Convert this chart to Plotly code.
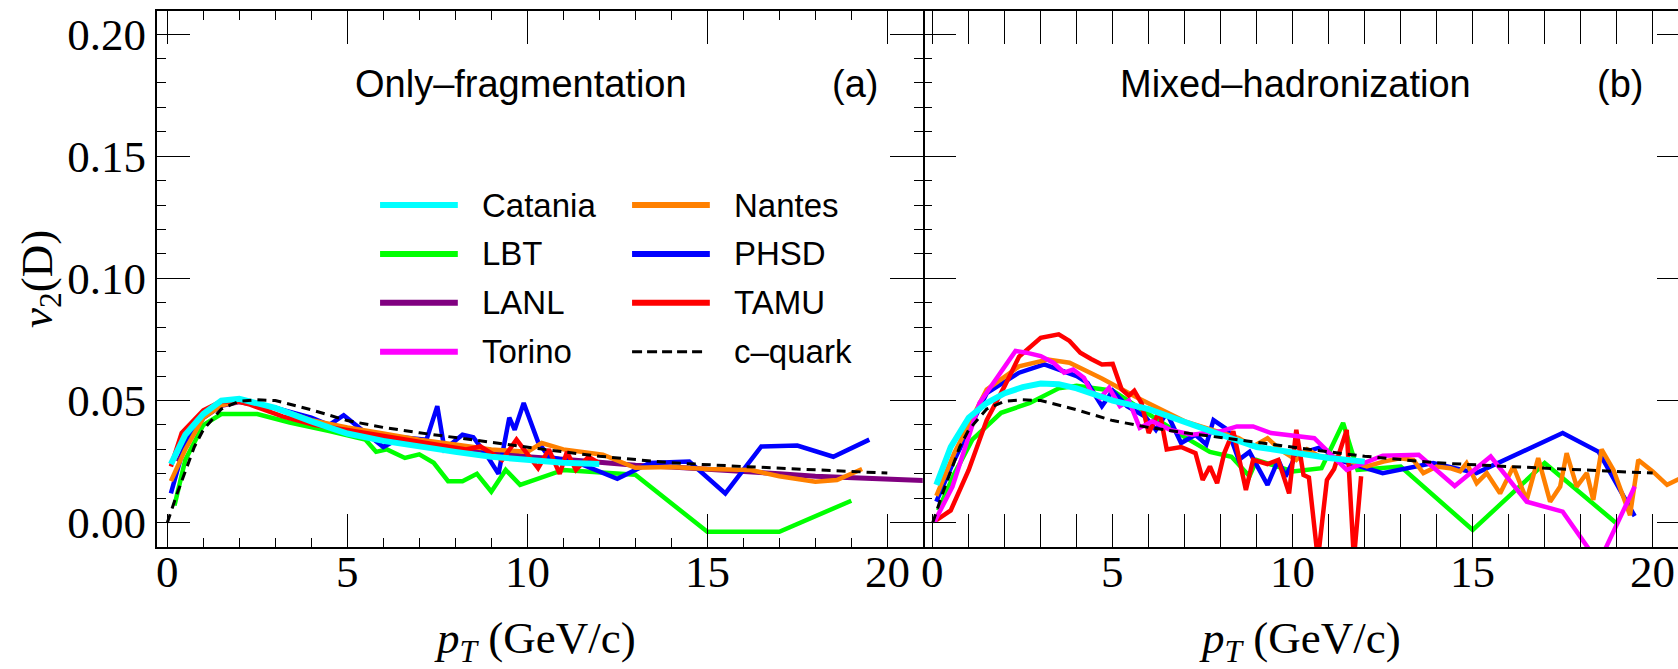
import plotly.graph_objects as go

# ---------------- data ----------------
# c-quark reference curve (same in both panels)
CQ_X = [0.0, 0.25, 0.5, 0.75, 1.0, 1.5, 2.0, 2.5, 3.0, 4.0, 5.0, 6.0, 7.0, 8.0, 9.0, 10.0, 11.0, 12.0, 14.0, 16.0, 18.0, 20.0]
CQ_Y = [0.0, 0.011, 0.021, 0.031, 0.038, 0.0465, 0.0497, 0.0503, 0.050, 0.0462, 0.0418, 0.039, 0.0368, 0.0348, 0.033, 0.031, 0.029, 0.0272, 0.0245, 0.023, 0.0216, 0.0203]

# Panel (a): only fragmentation
CAT_A_X = [0.1, 0.5, 1.0, 1.5, 2.0, 2.5, 3.0, 4.0, 5.0, 6.0, 7.0, 8.0, 9.0, 10.0, 11.0, 12.0]
CAT_A_Y = [0.024, 0.036, 0.0445, 0.050, 0.0507, 0.049, 0.047, 0.0415, 0.0365, 0.0335, 0.031, 0.029, 0.027, 0.0255, 0.0245, 0.024]

LBT_A_X = [0.2, 0.5, 1.0, 1.5, 2.5, 3.4, 4.5, 5.5, 5.8, 6.1, 6.6, 7.0, 7.4, 7.8, 8.2, 8.6, 9.0, 9.4, 9.8, 10.5, 11.0, 13.0, 15.0, 17.0, 19.0]
LBT_A_Y = [0.007, 0.0257, 0.040, 0.0445, 0.0445, 0.041, 0.0375, 0.034, 0.029, 0.030, 0.0265, 0.028, 0.0245, 0.017, 0.017, 0.020, 0.0127, 0.0216, 0.0155, 0.019, 0.0216, 0.0196, -0.0037, -0.0037, 0.009]

LANL_A_X = [0.3, 0.6, 1.0, 1.5, 2.0, 3.0, 4.0, 5.0, 6.0, 7.0, 8.0, 9.0, 10.0, 11.0, 12.0, 13.0, 14.0, 15.0, 16.0, 17.0, 18.0, 19.0, 20.0, 21.0]
LANL_A_Y = [0.025, 0.034, 0.043, 0.048, 0.0495, 0.047, 0.042, 0.038, 0.0355, 0.033, 0.031, 0.029, 0.027, 0.026, 0.0245, 0.0235, 0.0228, 0.022, 0.021, 0.020, 0.019, 0.0185, 0.018, 0.0173]

PHSD_A_X = [0.1, 0.5, 1.0, 1.5, 2.0, 3.0, 4.0, 4.5, 4.9, 5.4, 6.0, 6.5, 7.2, 7.5, 7.7, 8.2, 8.5, 8.9, 9.2, 9.5, 9.65, 9.9, 10.3, 10.6, 11.5, 12.5, 13.4, 14.5, 15.5, 16.5, 17.5, 18.5, 19.5]
PHSD_A_Y = [0.012, 0.033, 0.044, 0.049, 0.050, 0.047, 0.043, 0.040, 0.044, 0.038, 0.031, 0.035, 0.034, 0.0477, 0.030, 0.036, 0.035, 0.027, 0.020, 0.043, 0.038, 0.049, 0.033, 0.027, 0.024, 0.018, 0.0244, 0.025, 0.012, 0.0312, 0.0316, 0.027, 0.034]

NAN_A_X = [0.1, 0.5, 1.0, 1.5, 2.0, 3.0, 4.0, 5.0, 6.0, 7.0, 8.0, 9.0, 10.0, 10.4, 11.0, 11.5, 12.1, 13.0, 14.0, 15.0, 16.2, 17.0, 18.0, 18.6, 19.3]
NAN_A_Y = [0.017, 0.030, 0.043, 0.048, 0.0497, 0.047, 0.042, 0.039, 0.0365, 0.034, 0.032, 0.030, 0.029, 0.0326, 0.030, 0.029, 0.0278, 0.0225, 0.0228, 0.022, 0.0216, 0.019, 0.0168, 0.0175, 0.022]

TAMU_A_X = [0.1, 0.4, 1.0, 1.5, 2.0, 2.3, 3.2, 4.1, 5.0, 6.4, 7.4, 7.8, 8.3, 8.7, 9.3, 9.7, 10.0, 10.3, 10.6, 10.9, 11.1, 11.35, 11.7, 12.0]
TAMU_A_Y = [0.023, 0.0367, 0.046, 0.0497, 0.0495, 0.0483, 0.0435, 0.040, 0.038, 0.0346, 0.032, 0.0312, 0.030, 0.0312, 0.0257, 0.034, 0.028, 0.0223, 0.030, 0.020, 0.029, 0.0216, 0.027, 0.0244]

# Panel (b): mixed hadronization
CAT_B_X = [0.1, 0.5, 1.0, 1.5, 2.0, 2.5, 3.0, 3.5, 4.0, 5.0, 6.0, 7.0, 8.0, 9.0, 10.0, 11.0, 12.0]
CAT_B_Y = [0.0155, 0.031, 0.043, 0.049, 0.053, 0.0555, 0.057, 0.0567, 0.055, 0.050, 0.0465, 0.041, 0.036, 0.031, 0.0285, 0.0265, 0.025]

LBT_B_X = [0.15, 0.6, 1.1, 1.9, 2.7, 3.5, 4.0, 5.0, 6.1, 7.0, 7.7, 8.3, 8.8, 9.0, 10.0, 10.8, 11.4, 11.8, 13.0, 15.0, 17.0, 19.0]
LBT_B_Y = [0.005, 0.020, 0.034, 0.045, 0.049, 0.055, 0.056, 0.054, 0.0435, 0.035, 0.029, 0.027, 0.019, 0.0257, 0.021, 0.0223, 0.0408, 0.0216, 0.023, -0.003, 0.0244, -0.0003]

PHSD_B_X = [0.1, 0.6, 1.5, 2.4, 3.1, 3.5, 4.0, 4.3, 4.7, 5.0, 5.4, 5.9, 6.2, 6.5, 6.9, 7.3, 7.6, 7.8, 8.2, 8.5, 8.8, 9.3, 9.6, 9.8, 10.1, 10.8, 11.2, 12.5, 13.9, 15.1, 16.5, 17.5, 18.5, 19.5]
PHSD_B_Y = [0.0086, 0.0257, 0.053, 0.0614, 0.0648, 0.0627, 0.060, 0.0572, 0.0477, 0.054, 0.0477, 0.0435, 0.038, 0.045, 0.0326, 0.036, 0.032, 0.042, 0.038, 0.0257, 0.029, 0.0155, 0.0257, 0.0189, 0.0278, 0.031, 0.026, 0.0203, 0.0244, 0.0203, 0.030, 0.0367, 0.029, 0.0027]

NAN_B_X = [0.1, 0.6, 1.5, 2.4, 3.2, 3.8, 4.7, 5.7, 7.0, 8.0, 8.5, 8.9, 9.3, 9.65, 10.1, 10.4, 10.76, 11.13, 12.06, 12.52, 12.98, 13.35, 13.63, 14.0, 14.37, 14.65, 14.83, 15.11, 15.39, 15.76, 16.13, 16.5, 16.82, 17.15, 17.43, 17.61, 17.89, 18.17, 18.35, 18.58, 18.91, 19.37, 19.6, 20.0, 20.4, 20.75]
NAN_B_Y = [0.011, 0.0285, 0.0545, 0.064, 0.0668, 0.0655, 0.059, 0.051, 0.0415, 0.0367, 0.0346, 0.0312, 0.0346, 0.0299, 0.0257, 0.030, 0.027, 0.027, 0.023, 0.025, 0.0264, 0.0257, 0.0203, 0.023, 0.0223, 0.021, 0.0244, 0.0162, 0.0203, 0.012, 0.023, 0.0093, 0.0264, 0.0086, 0.0148, 0.0285, 0.0148, 0.0203, 0.0093, 0.030, 0.0216, 0.0031, 0.0257, 0.021, 0.0155, 0.018]

TAMU_B_X = [0.1, 0.5, 1.0, 1.5, 2.0, 2.4, 3.0, 3.5, 3.8, 4.1, 4.4, 4.7, 5.0, 5.25, 5.45, 5.6, 5.8, 6.0, 6.3, 6.5, 6.9, 7.3, 7.5, 7.7, 7.9, 8.1, 8.35, 8.7, 8.9, 9.3, 9.6, 9.9, 10.1, 10.3, 10.45, 10.7, 10.95, 11.15, 11.5, 11.7, 11.9]
TAMU_B_Y = [0.001, 0.005, 0.0216, 0.042, 0.056, 0.068, 0.0757, 0.0771, 0.0744, 0.0696, 0.067, 0.0648, 0.065, 0.0545, 0.052, 0.054, 0.049, 0.0367, 0.0456, 0.030, 0.031, 0.0285, 0.0175, 0.023, 0.0162, 0.0285, 0.0374, 0.0134, 0.0257, 0.024, 0.0257, 0.012, 0.038, 0.0195, 0.0185, -0.015, 0.0175, 0.022, 0.038, -0.015, 0.019]

TOR_B_X = [0.05, 0.55, 1.3, 1.8, 2.3, 2.6, 3.0, 3.35, 3.65, 3.9, 4.2, 4.4, 4.65, 4.9, 5.2, 5.45, 5.75, 6.1, 6.6, 7.2, 8.0, 8.45, 8.9, 9.4, 10.4, 10.6, 11.5, 12.0, 12.5, 13.5, 14.5, 15.5, 16.5, 17.5, 18.5, 19.5]
TOR_B_Y = [0.0004, 0.0148, 0.049, 0.060, 0.0703, 0.0696, 0.0682, 0.0655, 0.0614, 0.0627, 0.0593, 0.0538, 0.051, 0.0552, 0.0477, 0.050, 0.0388, 0.0415, 0.038, 0.036, 0.0374, 0.0394, 0.0394, 0.0367, 0.0353, 0.0346, 0.0216, 0.0244, 0.0274, 0.0278, 0.015, 0.0271, 0.0086, 0.0045, -0.0165, 0.0148]

X_TICKS = [0, 5, 10, 15, 20]
X_TICK_LABELS = ["0", "5", "10", "15", "20"]
LEGEND_COL1 = ["Catania", "LBT", "LANL", "Torino"]
LEGEND_COL2 = ["Nantes", "PHSD", "TAMU", "c\u2013quark"]
COLORS = {"Catania": "#00FFFF", "LBT": "#00FF00", "LANL": "#800080", "Torino": "#FF00FF",
          "Nantes": "#FF8000", "PHSD": "#0000FF", "TAMU": "#FF0000", "c\u2013quark": "black"}
PANEL_TITLES = ["Only\u2013fragmentation", "Mixed\u2013hadronization"]
PANEL_TAGS = ["(a)", "(b)"]
X_TITLE = "<i>p</i><sub><i>T</i></sub> (GeV/c)"
Y_TITLE = "<i>v</i><sub>2</sub>(D)"

# ---------------- figure ----------------
fig = go.Figure()
WIDTHS = {"Catania": 6, "LBT": 4.5, "LANL": 5, "Torino": 4.5, "Nantes": 4.5, "PHSD": 4.5, "TAMU": 4.5}


def add(x, y, name, xa, ya):
    fig.add_trace(go.Scatter(x=x, y=y, mode="lines", name=name, showlegend=False,
                             line=dict(color=COLORS[name], width=WIDTHS[name]),
                             xaxis=xa, yaxis=ya, hoverinfo="skip"))


# panel (a)
add(LANL_A_X, LANL_A_Y, "LANL", "x", "y")
add(LBT_A_X, LBT_A_Y, "LBT", "x", "y")
add(PHSD_A_X, PHSD_A_Y, "PHSD", "x", "y")
add(NAN_A_X, NAN_A_Y, "Nantes", "x", "y")
add(TAMU_A_X, TAMU_A_Y, "TAMU", "x", "y")
add(CAT_A_X, CAT_A_Y, "Catania", "x", "y")
fig.add_trace(go.Scatter(x=CQ_X, y=CQ_Y, mode="lines", showlegend=False, hoverinfo="skip",
                         line=dict(color="black", width=3, dash="9px,6px"), xaxis="x", yaxis="y"))

# panel (b)
add(LBT_B_X, LBT_B_Y, "LBT", "x2", "y2")
add(PHSD_B_X, PHSD_B_Y, "PHSD", "x2", "y2")
add(NAN_B_X, NAN_B_Y, "Nantes", "x2", "y2")
add(TAMU_B_X, TAMU_B_Y, "TAMU", "x2", "y2")
add(TOR_B_X, TOR_B_Y, "Torino", "x2", "y2")
add(CAT_B_X, CAT_B_Y, "Catania", "x2", "y2")
fig.add_trace(go.Scatter(x=CQ_X, y=CQ_Y, mode="lines", showlegend=False, hoverinfo="skip",
                         line=dict(color="black", width=3, dash="9px,6px"), xaxis="x2", yaxis="y2"))
# empty carrier trace for the right-edge tick axis
fig.add_trace(go.Scatter(x=[], y=[], xaxis="x2", yaxis="y3", showlegend=False))

W, H = 1678, 669
ML, MR, MT, MB = 157, 0, 11, 122
SPLIT = (922.7 - ML) / (W - ML - MR)
YR = [-0.00995, 0.20946]

serif = "Liberation Serif"
sans = "Liberation Sans"

common = dict(linecolor="black", linewidth=2, ticks="inside", ticklen=33,
              tickwidth=1.3, tickcolor="black", showgrid=False, zeroline=False,
              tickfont=dict(family=serif, size=45, color="black"))
xminor = dict(ticks="inside", ticklen=9, tickwidth=1.3, tickcolor="black", showgrid=False, dtick=1)
yminor = dict(ticks="inside", ticklen=9, tickwidth=1.3, tickcolor="black", showgrid=False, dtick=0.01)

fig.update_layout(
    width=W, height=H, margin=dict(l=ML, r=MR, t=MT, b=MB, pad=0),
    paper_bgcolor="white", plot_bgcolor="white", showlegend=False,
    xaxis=dict(domain=[0, SPLIT], range=[-0.286, 20.983], anchor="y", mirror="allticks", showline=True,
               tickmode="array", tickvals=X_TICKS, showticklabels=False, minor=xminor, **common),
    xaxis2=dict(domain=[SPLIT, 1], range=[-0.278, 20.703], anchor="y2", mirror="allticks", showline=True,
                tickmode="array", tickvals=X_TICKS, showticklabels=False, minor=xminor, **common),
    yaxis=dict(domain=[0, 1], range=YR, anchor="x", mirror="allticks", showline=True, tick0=0, dtick=0.05,
               tickformat=".2f", minor=yminor, **common),
    yaxis2=dict(domain=[0, 1], range=YR, anchor="x2", mirror=False, showline=False, tick0=0, dtick=0.05,
                showticklabels=False, minor=yminor, **common),
    yaxis3=dict(range=YR, overlaying="y2", anchor="free", position=1.0, side="right",
                showline=False, showgrid=False, zeroline=False, ticks="inside", ticklen=21,
                tickwidth=1.3, tickcolor="black", tick0=0, dtick=0.05, showticklabels=False),
)

annotations = []
# x tick labels (placed close to the frame, as in the reference)
for xr in ["x", "x2"]:
    for tv, tl in zip(X_TICKS, X_TICK_LABELS):
        annotations.append(dict(text=tl, xref=xr, yref="paper", x=tv, y=(547 - 572) / 536,
                                showarrow=False, xanchor="center", yanchor="middle",
                                font=dict(family=serif, size=45, color="black")))
# axis titles
annotations.append(dict(text=Y_TITLE, xref="paper", yref="paper", x=(40 - ML) / (W - ML), y=0.5,
                        textangle=-90, showarrow=False, xanchor="center", yanchor="middle",
                        font=dict(family=serif, size=45, color="black")))
for xr in ["x", "x2"]:
    annotations.append(dict(text=X_TITLE, xref=xr, yref="paper", x=10.2, y=(547 - 641) / 536,
                            showarrow=False, xanchor="center", yanchor="middle",
                            font=dict(family=serif, size=45, color="black")))
# panel titles
for xr, yr, title, tag in [("x", "y", PANEL_TITLES[0], PANEL_TAGS[0]), ("x2", "y2", PANEL_TITLES[1], PANEL_TAGS[1])]:
    annotations.append(dict(text=title, xref=xr, yref=yr, x=5.15, y=0.1796, showarrow=False,
                            xanchor="left", yanchor="middle", font=dict(family=sans, size=38, color="black")))
    annotations.append(dict(text=tag, xref=xr, yref=yr, x=19.1, y=0.1796, showarrow=False,
                            xanchor="center", yanchor="middle", font=dict(family=sans, size=38, color="black")))

# legend (drawn manually, two columns)
ROW_Y = [0.13, 0.11, 0.09, 0.07]
shapes = []
for col, (x0, x1, xt) in zip([LEGEND_COL1, LEGEND_COL2], [(5.91, 8.07, 8.69), (12.91, 15.07, 15.69)]):
    for name, yv in zip(col, ROW_Y):
        if name.startswith("c"):
            ln = dict(color="black", width=3, dash="10px,5px")
            xe = x1 - 0.1
        else:
            ln = dict(color=COLORS[name], width=6)
            xe = x1
        shapes.append(dict(type="line", xref="x", yref="y", x0=x0, x1=xe, y0=yv, y1=yv, line=ln))
        annotations.append(dict(text=name, xref="x", yref="y", x=xt, y=yv, showarrow=False,
                                xanchor="left", yanchor="middle",
                                font=dict(family=sans, size=33, color="black")))

fig.update_layout(annotations=annotations, shapes=shapes)
fig.write_html("out.html")
